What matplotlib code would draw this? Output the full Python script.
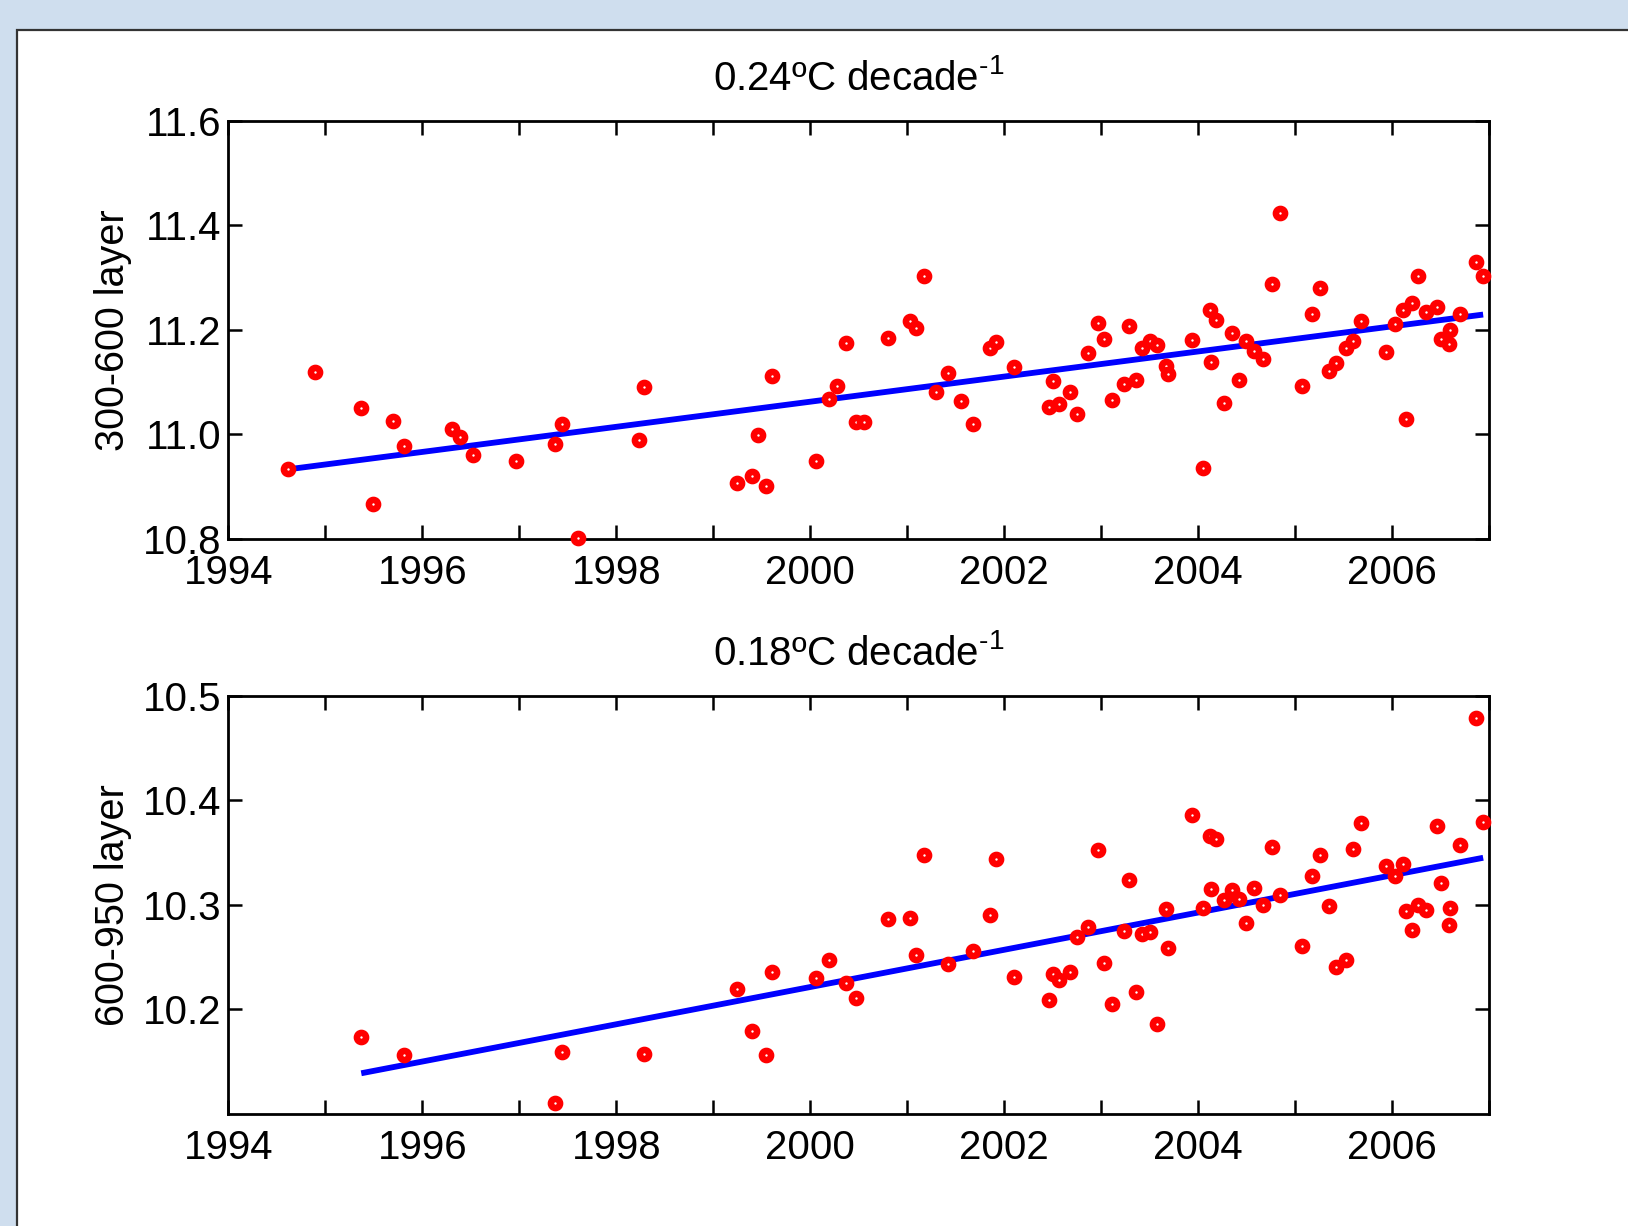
import matplotlib
matplotlib.use("Agg")
import matplotlib.pyplot as plt
from matplotlib.patches import Rectangle
from matplotlib.ticker import MultipleLocator
import numpy as np

plt.rcParams['font.family'] = ['Liberation Sans', 'DejaVu Sans']
plt.rcParams['mathtext.default'] = 'regular'

# 300-600 layer
year_top = [1994.61, 1994.89, 1995.37, 1995.49, 1995.70, 1995.81, 1996.31, 1996.39, 1996.52, 1996.97,
            1997.37, 1997.44, 1997.61, 1998.23, 1998.29, 1999.25, 1999.40, 1999.46, 1999.54, 1999.61,
            2000.06, 2000.19, 2000.28, 2000.37, 2000.47, 2000.55, 2000.80, 2001.03, 2001.09, 2001.17,
            2001.30, 2001.42, 2001.55, 2001.68, 2001.85, 2001.92, 2002.10, 2002.46, 2002.50, 2002.57,
            2002.68, 2002.75, 2002.87, 2002.97, 2003.03, 2003.11, 2003.24, 2003.29, 2003.36, 2003.42,
            2003.50, 2003.58, 2003.67, 2003.69, 2003.94, 2004.05, 2004.12, 2004.13, 2004.18, 2004.27,
            2004.35, 2004.42, 2004.49, 2004.58, 2004.67, 2004.76, 2004.85, 2005.07, 2005.18, 2005.26,
            2005.35, 2005.42, 2005.53, 2005.60, 2005.68, 2005.94, 2006.03, 2006.11, 2006.14, 2006.21,
            2006.27, 2006.35, 2006.46, 2006.51, 2006.60, 2006.59, 2006.70, 2006.87, 2006.94]
temp_top = [10.933, 11.120, 11.050, 10.867, 11.026, 10.977, 11.010, 10.995, 10.961, 10.949,
            10.981, 11.020, 10.802, 10.989, 11.090, 10.907, 10.921, 10.999, 10.901, 11.112,
            10.949, 11.068, 11.092, 11.175, 11.024, 11.024, 11.185, 11.217, 11.203, 11.302,
            11.080, 11.118, 11.064, 11.020, 11.165, 11.177, 11.128, 11.052, 11.102, 11.058,
            11.080, 11.038, 11.155, 11.213, 11.183, 11.066, 11.096, 11.207, 11.104, 11.165,
            11.179, 11.171, 11.130, 11.116, 11.181, 10.935, 11.237, 11.139, 11.219, 11.060,
            11.193, 11.104, 11.179, 11.159, 11.145, 11.288, 11.423, 11.092, 11.231, 11.280,
            11.122, 11.136, 11.165, 11.179, 11.217, 11.157, 11.211, 11.237, 11.030, 11.251,
            11.302, 11.233, 11.243, 11.183, 11.199, 11.173, 11.231, 11.330, 11.302]
trend_top_year = [1994.61, 2006.94]
trend_top = [10.933, 11.229]

# 600-950 layer
year_bot = [1995.37, 1995.81, 1997.37, 1997.44, 1998.29, 1999.25, 1999.40, 1999.54, 1999.61, 2000.06,
            2000.19, 2000.37, 2000.47, 2000.80, 2001.03, 2001.09, 2001.17, 2001.42, 2001.68, 2001.85,
            2001.92, 2002.10, 2002.46, 2002.50, 2002.57, 2002.68, 2002.75, 2002.87, 2002.97, 2003.03,
            2003.11, 2003.24, 2003.29, 2003.36, 2003.42, 2003.50, 2003.58, 2003.67, 2003.69, 2003.94,
            2004.05, 2004.12, 2004.13, 2004.18, 2004.27, 2004.35, 2004.42, 2004.49, 2004.58, 2004.67,
            2004.76, 2004.85, 2005.07, 2005.18, 2005.26, 2005.35, 2005.42, 2005.53, 2005.60, 2005.68,
            2005.94, 2006.03, 2006.11, 2006.14, 2006.21, 2006.27, 2006.35, 2006.46, 2006.51, 2006.60,
            2006.59, 2006.70, 2006.87, 2006.94]
temp_bot = [10.174, 10.156, 10.111, 10.159, 10.157, 10.220, 10.179, 10.156, 10.236, 10.230,
            10.247, 10.225, 10.211, 10.286, 10.287, 10.252, 10.348, 10.243, 10.256, 10.290,
            10.344, 10.231, 10.209, 10.234, 10.228, 10.236, 10.269, 10.279, 10.352, 10.244,
            10.205, 10.275, 10.324, 10.217, 10.272, 10.274, 10.186, 10.296, 10.259, 10.386,
            10.297, 10.366, 10.315, 10.363, 10.305, 10.314, 10.306, 10.283, 10.316, 10.300,
            10.355, 10.309, 10.261, 10.328, 10.348, 10.299, 10.241, 10.247, 10.353, 10.378,
            10.337, 10.328, 10.339, 10.294, 10.276, 10.300, 10.295, 10.375, 10.321, 10.297,
            10.281, 10.357, 10.479, 10.379]
trend_bot_year = [1995.37, 2006.94]
trend_bot = [10.139, 10.345]

titles = ["0.24ºC decade$^{‐1}$", "0.18ºC decade$^{‐1}$"]
ylabels = ["300-600 layer", "600-950 layer"]
ylims = [(10.8, 11.6), (10.1, 10.5)]
yticks = [[10.8, 11.0, 11.2, 11.4, 11.6], [10.2, 10.3, 10.4, 10.5]]
ytick_labels = [["10.8", "11.0", "11.2", "11.4", "11.6"], ["10.2", "10.3", "10.4", "10.5"]]

fig = plt.figure(figsize=(16.28, 12.26), dpi=100)
fig.patch.set_facecolor('#cfdeee')
fig.patches.append(Rectangle((17 / 1628, -0.05), 1.1, 1 - 30 / 1226 + 0.05,
                             transform=fig.transFigure, facecolor='white',
                             edgecolor='#333333', linewidth=1.6, zorder=-10))

positions = [[0.1403, 0.5604, 0.7743, 0.3413], [0.1403, 0.0913, 0.7743, 0.3413]]
series = [(year_top, temp_top, trend_top_year, trend_top),
          (year_bot, temp_bot, trend_bot_year, trend_bot)]

for i, pos in enumerate(positions):
    ax = fig.add_axes(pos)
    ax.set_zorder(1)
    yrs, vals, tyrs, tvals = series[i]
    ax.plot(tyrs, tvals, color='#0000ff', lw=4.2, solid_capstyle='butt', zorder=2)
    ax.plot(yrs, vals, 'o', ms=6.6, mfc='white', mec='#ff0000', mew=4.7, zorder=3, clip_on=False)
    ax.set_xlim(1994, 2007)
    ax.set_ylim(*ylims[i])
    ax.set_xticks([1994, 1996, 1998, 2000, 2002, 2004, 2006])
    ax.xaxis.set_minor_locator(MultipleLocator(1))
    ax.set_yticks(yticks[i])
    ax.set_yticklabels(ytick_labels[i])
    ax.tick_params(which='both', direction='in', top=True, right=True,
                   length=10, width=1.8, labelsize=29)
    ax.tick_params(axis='x', pad=11)
    ax.tick_params(axis='y', pad=5)
    for s in ax.spines.values():
        s.set_linewidth(2)
    ax.set_title(titles[i], fontsize=29, pad=22)
    ax.set_ylabel(ylabels[i], fontsize=28.5, labelpad=8)

fig.savefig("out.png", dpi=100, facecolor=fig.get_facecolor())
